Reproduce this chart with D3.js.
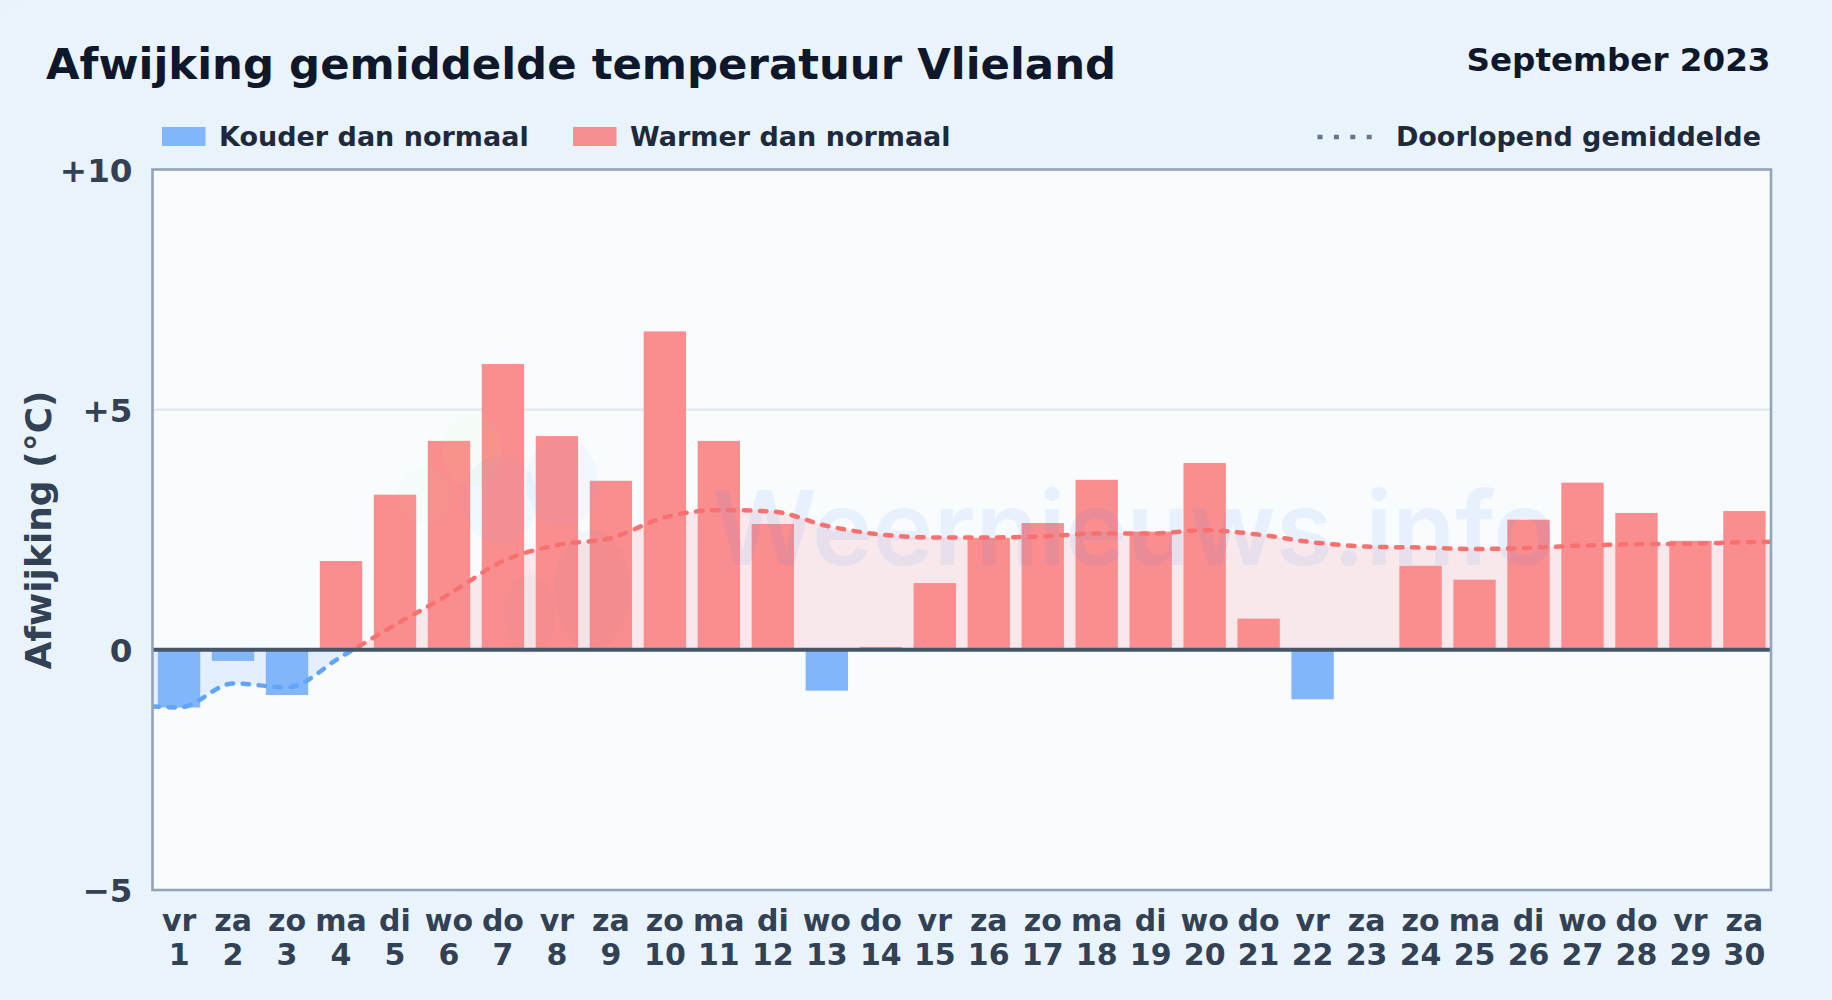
<!DOCTYPE html>
<html lang="nl">
<head>
<meta charset="utf-8">
<title>Afwijking gemiddelde temperatuur Vlieland</title>
<script src="https://cdn.jsdelivr.net/npm/d3@7"></script>
<style>
html,body{margin:0;padding:0;background:#e9f3fc;}
svg{display:block;}
text{font-family:"DejaVu Sans",sans-serif;font-weight:700;}
</style>
</head>
<body>
<svg id="chart" width="1832" height="1000"></svg>
<script>
const days = d3.range(1, 31);
const weekdays = ["vr","za","zo","ma","di","wo","do","vr","za","zo","ma","di","wo","do","vr","za","zo","ma","di","wo","do","vr","za","zo","ma","di","wo","do","vr","za"];
const deviations = [-1.2,-0.23,-0.94,1.85,3.23,4.35,5.95,4.45,3.52,6.63,4.35,2.62,-0.85,0.06,1.39,2.33,2.64,3.54,2.46,3.89,0.65,-1.03,0,1.75,1.46,2.71,3.48,2.85,2.27,2.89];
const runningDays = [0.5,1,2,3,4,5,6,7,8,9,10,11,12,13,14,15,16,17,18,19,20,21,22,23,24,25,26,27,28,29,30,30.5];
const runningValues = [-1.18,-1.2,-0.7,-0.78,-0.14,0.52,1.16,1.85,2.18,2.33,2.76,2.91,2.88,2.58,2.40,2.34,2.34,2.36,2.42,2.42,2.49,2.40,2.24,2.15,2.13,2.10,2.12,2.17,2.20,2.21,2.24,2.25];
const yTicks = [-5,0,5,10];
const yTickLabels = ["\u22125","0","+5","+10"];

const plot = {left:152.5, right:1771, top:169.5, bottom:890};
const svg = d3.select("#chart");
const defs = svg.append("defs");

const bgGrad = defs.append("linearGradient").attr("id","bg").attr("x1",0).attr("y1",0).attr("x2",1).attr("y2",1);
bgGrad.append("stop").attr("offset",0).attr("stop-color","#e8f3fc");
bgGrad.append("stop").attr("offset",1).attr("stop-color","#eaf4fd");
svg.append("rect").attr("width",1832).attr("height",1000).attr("fill","url(#bg)");

const x = d3.scaleBand().domain(days).range([plot.left, plot.right]).paddingInner(0.215).paddingOuter(0.1);
const xLine = d3.scaleLinear().domain([0.5,30.5]).range([plot.left, plot.right]);
const y = d3.scaleLinear().domain([-5,10]).range([plot.bottom, plot.top]);

defs.append("clipPath").attr("id","clipPos").append("rect")
  .attr("x",plot.left).attr("y",plot.top).attr("width",plot.right-plot.left).attr("height",y(0)-plot.top);
defs.append("clipPath").attr("id","clipNeg").append("rect")
  .attr("x",plot.left).attr("y",y(0)).attr("width",plot.right-plot.left).attr("height",plot.bottom-y(0));

// plot background
svg.append("rect").attr("x",plot.left).attr("y",plot.top)
  .attr("width",plot.right-plot.left).attr("height",plot.bottom-plot.top).attr("fill","#f8fcff");

// grid
svg.append("line").attr("x1",plot.left).attr("x2",plot.right).attr("y1",y(5)).attr("y2",y(5))
  .attr("stroke","#e2e8f0").attr("stroke-width",2.2);

// area under running mean
const running = runningDays.map((d,i)=>({d, v:runningValues[i]}));
const curve = d3.curveMonotoneX;
const area = d3.area().x(p=>xLine(p.d)).y0(y(0)).y1(p=>y(p.v)).curve(curve);
const line = d3.line().x(p=>xLine(p.d)).y(p=>y(p.v)).curve(curve);
svg.append("path").attr("d",area(running)).attr("fill","#f87171").attr("fill-opacity",0.14).attr("clip-path","url(#clipPos)");
svg.append("path").attr("d",area(running)).attr("fill","#60a5fa").attr("fill-opacity",0.14).attr("clip-path","url(#clipNeg)");

// bars
svg.append("g").selectAll("rect").data(days).join("rect")
  .attr("x",d=>x(d))
  .attr("width",x.bandwidth())
  .attr("y",(d,i)=>y(Math.max(0,deviations[i])))
  .attr("height",(d,i)=>Math.abs(y(deviations[i])-y(0)))
  .attr("fill",(d,i)=>deviations[i]<0?"#81b6fb":"#fa8e8f");

// watermark
const wm = svg.append("g").attr("pointer-events","none");
const logoBlobs = [
  {cx:500,cy:500,rx:38,ry:44,c:"#60a5fa",o:0.06},
  {cx:562,cy:482,rx:36,ry:44,c:"#60a5fa",o:0.06},
  {cx:592,cy:590,rx:38,ry:60,c:"#64748b",o:0.045},
  {cx:472,cy:450,rx:30,ry:36,c:"#bef264",o:0.05},
  {cx:425,cy:495,rx:28,ry:28,c:"#bef264",o:0.04},
  {cx:530,cy:615,rx:26,ry:40,c:"#64748b",o:0.035}
];
wm.selectAll("ellipse").data(logoBlobs).join("ellipse")
  .attr("cx",b=>b.cx).attr("cy",b=>b.cy).attr("rx",b=>b.rx).attr("ry",b=>b.ry)
  .attr("fill",b=>b.c).attr("fill-opacity",b=>b.o);
wm.append("text").attr("x",712).attr("y",565).text("Weernieuws.info")
  .style("font-family","Inter, sans-serif").style("font-weight",600).style("font-size","103px")
  .attr("fill","#3b82f6").attr("fill-opacity",0.085);

// running mean line
[["url(#clipPos)","#f87171"],["url(#clipNeg)","#60a5fa"]].forEach(([clip,col])=>{
  svg.append("g").attr("clip-path",clip).append("path").attr("d",line(running))
    .attr("fill","none").attr("stroke",col).attr("stroke-width",4.5)
    .attr("stroke-linecap","round").attr("stroke-dasharray","6.5 9.5");
});

// zero line
svg.append("line").attr("x1",plot.left).attr("x2",plot.right).attr("y1",y(0)).attr("y2",y(0))
  .attr("stroke","#475569").attr("stroke-width",4);

// frame
svg.append("rect").attr("x",plot.left).attr("y",plot.top)
  .attr("width",plot.right-plot.left).attr("height",plot.bottom-plot.top)
  .attr("fill","none").attr("stroke","#94a3b8").attr("stroke-width",2.6);

// y axis
const yAxis = d3.axisLeft(y).tickValues(yTicks).tickSize(0).tickPadding(0)
  .tickFormat(d=>yTickLabels[yTicks.indexOf(d)]);
const gy = svg.append("g").attr("transform",`translate(132.5,0)`).call(yAxis);
gy.select(".domain").remove();
gy.selectAll("text").attr("fill","#334155").style("font-size","32.6px").attr("dy","0.36em");

// x axis
const xAxis = d3.axisBottom(x).tickSize(0).tickFormat("");
const gx = svg.append("g").attr("transform",`translate(0,${plot.bottom})`).call(xAxis);
gx.select(".domain").remove();
gx.selectAll(".tick text").remove();
gx.selectAll(".tick").each(function(d,i){
  const t = d3.select(this);
  t.append("text").attr("y",41).attr("text-anchor","middle").attr("fill","#334155").style("font-size","30px").text(weekdays[i]);
  t.append("text").attr("y",75).attr("text-anchor","middle").attr("fill","#334155").style("font-size","30px").text(d);
});

// axis title
svg.append("text").attr("transform",`translate(51,530) rotate(-90)`).attr("text-anchor","middle")
  .attr("fill","#334155").style("font-size","36px").text("Afwijking (°C)");

// titles
svg.append("text").attr("x",46).attr("y",79).attr("fill","#0f172a").style("font-size","43.4px").text("Afwijking gemiddelde temperatuur Vlieland");
svg.append("text").attr("x",1770.5).attr("y",71).attr("text-anchor","end").attr("fill","#0f172a").style("font-size","32.6px").text("September 2023");

// legend
const legendBars = [
  {x:162,c:"#81b6fb",t:"Kouder dan normaal",tx:219},
  {x:573,c:"#f68f90",t:"Warmer dan normaal",tx:630}
];
legendBars.forEach(l=>{
  svg.append("rect").attr("x",l.x).attr("y",127).attr("width",43.5).attr("height",19).attr("fill",l.c);
  svg.append("text").attr("x",l.tx).attr("y",146).attr("fill","#1e293b").style("font-size","27px").text(l.t);
});
svg.append("line").attr("x1",1317.5).attr("x2",1375).attr("y1",137).attr("y2",137)
  .attr("stroke","#64748b").attr("stroke-width",4.5).attr("stroke-dasharray","5 11.4");
svg.append("text").attr("x",1761).attr("y",146).attr("text-anchor","end").attr("fill","#1e293b").style("font-size","27px").text("Doorlopend gemiddelde");
</script>
</body>
</html>
